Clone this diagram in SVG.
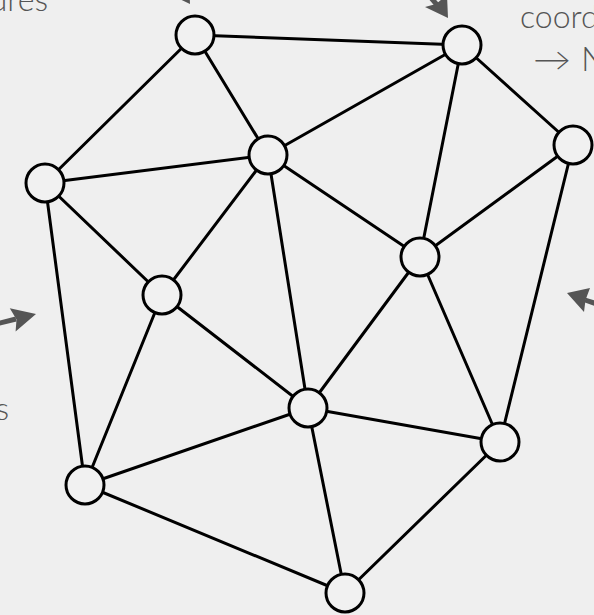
<svg xmlns="http://www.w3.org/2000/svg" width="594" height="615" viewBox="0 0 594 615">
<defs>
<style>
.edge{stroke:#000;stroke-width:3;stroke-linecap:round;fill:none}
.node{fill:#f1f1f1;stroke:#000;stroke-width:3}
.lbl{font-family:Lato,"Open Sans","Liberation Sans",sans-serif;font-weight:300;fill:#555;font-size:32px}
.arr{fill:#555;stroke:none}
.shaft{stroke:#555;stroke-width:5;fill:none}
</style>
</defs>
<rect width="594" height="615" fill="#efefef"/>
<g id="labels">
<text class="lbl" x="48" y="11" text-anchor="end">ures</text>
<text class="lbl" x="520" y="28">coord</text>
<text class="lbl" x="533" y="71" textLength="38" lengthAdjust="spacingAndGlyphs">→</text>
<text class="lbl" x="581" y="71" style="font-size:34px">N</text>
<text class="lbl" x="9" y="420" text-anchor="end">s</text>
</g>
<g id="arrows">
<line class="shaft" x1="-2" y1="323.5" x2="16" y2="319"/>
<polygon class="arr" points="36,314 9.8,308.2 16.5,319.5 15.6,331.4"/>
<line class="shaft" x1="600" y1="305" x2="585" y2="300"/>
<polygon class="arr" points="567,293 590,288 585.5,300 584,312"/>
<line class="shaft" x1="420" y1="-15" x2="438" y2="6"/>
<polygon class="arr" points="448,18 425,7 436,4 447,-5"/>
<line class="shaft" x1="162" y1="-29" x2="180" y2="-8"/>
<polygon class="arr" points="190,4 167,-7 178,-10 189,-19"/>
</g>
<g id="connectors">
<line class="edge" x1="195" y1="35" x2="462" y2="45"/>
<line class="edge" x1="195" y1="35" x2="45" y2="183"/>
<line class="edge" x1="195" y1="35" x2="268" y2="155"/>
<line class="edge" x1="462" y1="45" x2="268" y2="155"/>
<line class="edge" x1="462" y1="45" x2="573" y2="145"/>
<line class="edge" x1="462" y1="45" x2="420" y2="257"/>
<line class="edge" x1="573" y1="145" x2="420" y2="257"/>
<line class="edge" x1="573" y1="145" x2="500" y2="442"/>
<line class="edge" x1="268" y1="155" x2="45" y2="183"/>
<line class="edge" x1="268" y1="155" x2="162" y2="295"/>
<line class="edge" x1="268" y1="155" x2="308" y2="408"/>
<line class="edge" x1="268" y1="155" x2="420" y2="257"/>
<line class="edge" x1="45" y1="183" x2="162" y2="295"/>
<line class="edge" x1="45" y1="183" x2="85" y2="485"/>
<line class="edge" x1="162" y1="295" x2="85" y2="485"/>
<line class="edge" x1="162" y1="295" x2="308" y2="408"/>
<line class="edge" x1="420" y1="257" x2="308" y2="408"/>
<line class="edge" x1="420" y1="257" x2="500" y2="442"/>
<line class="edge" x1="308" y1="408" x2="85" y2="485"/>
<line class="edge" x1="308" y1="408" x2="500" y2="442"/>
<line class="edge" x1="308" y1="408" x2="345" y2="593"/>
<line class="edge" x1="85" y1="485" x2="345" y2="593"/>
<line class="edge" x1="500" y1="442" x2="345" y2="593"/>
</g>
<g id="nA"><circle class="node" cx="195" cy="35" r="19"/></g>
<g id="nB"><circle class="node" cx="462" cy="45" r="19"/></g>
<g id="nC"><circle class="node" cx="573" cy="145" r="19"/></g>
<g id="nD"><circle class="node" cx="268" cy="155" r="19"/></g>
<g id="nE"><circle class="node" cx="45" cy="183" r="19"/></g>
<g id="nF"><circle class="node" cx="420" cy="257" r="19"/></g>
<g id="nG"><circle class="node" cx="162" cy="295" r="19"/></g>
<g id="nH"><circle class="node" cx="308" cy="408" r="19"/></g>
<g id="nI"><circle class="node" cx="500" cy="442" r="19"/></g>
<g id="nJ"><circle class="node" cx="85" cy="485" r="19"/></g>
<g id="nK"><circle class="node" cx="345" cy="593" r="19"/></g>
</svg>
